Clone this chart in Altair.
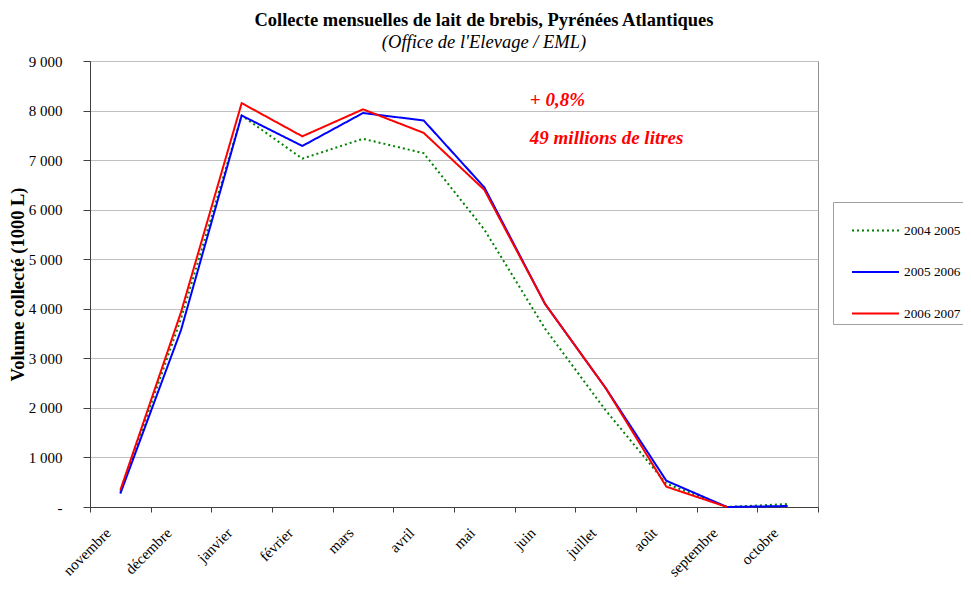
import json
import altair as alt
import pandas as pd

months = ["novembre", "décembre", "janvier", "février", "mars", "avril",
          "mai", "juin", "juillet", "août", "septembre", "octobre"]
series_names = ["2004 2005", "2005 2006", "2006 2007"]
s_2004_2005 = [300, 3800, 7900, 7030, 7430, 7140, 5600, 3600, 1950, 470, 0, 60]
s_2005_2006 = [270, 3570, 7900, 7285, 7950, 7800, 6450, 4100, 2400, 530, 0, 20]
s_2006_2007 = [340, 3930, 8150, 7480, 8025, 7550, 6400, 4100, 2400, 410, 0, None]
series_colors = ["#008000", "#0000ff", "#ff0000"]

annot_texts = ["+ 0,8%", "49 millions de litres"]
annot_x = [7.25, 7.25]
annot_y = [8210, 7440]

rows = []
for name, vals in zip(series_names, [s_2004_2005, s_2005_2006, s_2006_2007]):
    for i, (m, v) in enumerate(zip(months, vals)):
        rows.append({"serie": name, "mois": m, "pos": i + 0.5, "value": v})
df = pd.DataFrame(rows)
ann = pd.DataFrame({"x": annot_x, "y": annot_y, "text": annot_texts})

FONT = "Liberation Serif"
months_js = json.dumps(months, ensure_ascii=False)

x_enc = alt.X(
    "pos:Q",
    scale=alt.Scale(domain=[0, 12], nice=False, zero=False),
    axis=alt.Axis(
        values=list(range(13)),
        labelExpr=f"datum.value < 12 ? {months_js}[datum.value] : ''",
        labelOffset=13, labelAngle=-45, labelAlign="right", labelBaseline="top",
        labelPadding=13, labelFont=FONT, labelFontSize=15, labelColor="black",
        tickSize=5, grid=False, title=None, labelOverlap=False,
        domainColor="#404040", tickColor="#404040",
    ),
)
y_enc = alt.Y(
    "value:Q",
    scale=alt.Scale(domain=[0, 9000], nice=False),
    axis=alt.Axis(
        values=list(range(0, 9001, 1000)),
        labelExpr="datum.value == 0 ? '-' : replace(format(datum.value, ',d'), ',', ' ')",
        labelFont=FONT, labelFontSize=15, labelColor="black", labelPadding=21,
        tickSize=7, grid=True, gridColor="#c0c0c0",
        title="Volume collecté (1000 L)", titleFont=FONT, titleFontSize=18.5,
        titleFontWeight="bold", titleColor="black", titlePadding=1,
        domainColor="#404040", tickColor="#404040",
    ),
)

leg = alt.Legend(
    title=" ", titleOrient="left", titlePadding=14, titleFontSize=6,
    orient="none", legendX=743, legendY=141,
    strokeColor="#a0a0a0", fillColor="white", padding=4,
    symbolType="stroke", symbolSize=47 * 47, symbolStrokeWidth=2,
    labelFont=FONT, labelFontSize=13.3, labelColor="black", labelOffset=4,
    rowPadding=10.5,
)

lines = alt.Chart(df).mark_line(strokeWidth=2).encode(
    x=x_enc,
    y=y_enc,
    color=alt.Color("serie:N", scale=alt.Scale(domain=series_names, range=series_colors), legend=leg),
    strokeDash=alt.StrokeDash("serie:N", scale=alt.Scale(domain=series_names, range=[[2, 3], [1, 0], [1, 0]]), legend=leg),
)

texts = alt.Chart(ann).mark_text(
    align="left", baseline="middle", font=FONT, fontSize=19,
    fontWeight="bold", fontStyle="italic", color="#ff0000",
).encode(x="x:Q", y="y:Q", text="text:N")

chart = alt.layer(lines, texts).properties(
    width=728, height=446,
    autosize=alt.AutoSizeParams(type="none"),
    padding={"left": 82, "top": 53, "right": 145, "bottom": 76},
    title=alt.TitleParams(
        text="Collecte mensuelles de lait de brebis, Pyrénées Atlantiques",
        subtitle="(Office de l'Elevage / EML)",
        font=FONT, fontSize=18.5, fontWeight="bold", color="black",
        subtitleFont=FONT, subtitleFontSize=18.5, subtitleFontStyle="italic",
        subtitleColor="black", subtitlePadding=3,
        anchor="middle", dx=30, offset=3,
    ),
).configure_view(stroke="#909090")

chart.save("out.html", embed_options={"renderer": "svg", "actions": False})
